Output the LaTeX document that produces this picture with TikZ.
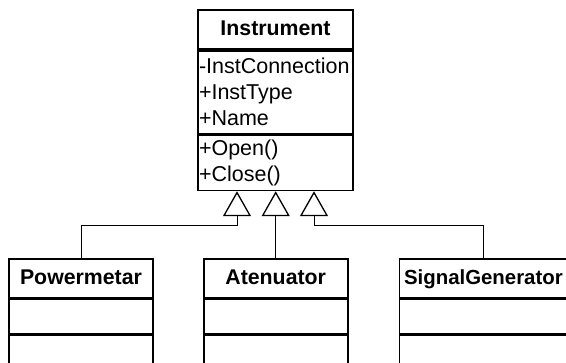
\documentclass[tikz,border=0pt]{standalone}
\usepackage{fontspec}
\setmainfont{Liberation Sans}
\usetikzlibrary{arrows.meta,calc,positioning}

\begin{document}
\begin{tikzpicture}[x=1pt,y=1pt,
      every node/.style={font=\fontsize{21.5}{26}\selectfont},
      cls/.style={draw,line width=1.7pt,inner sep=0pt,text height=15.4pt,text depth=4pt,
        font=\fontsize{21.3}{26}\selectfont\bfseries},
      part/.style={draw,line width=1.7pt,align=left,inner xsep=1pt,inner ysep=0pt},
      gen/.style={-{Triangle[open,length=25pt,width=28pt,line width=1.3pt]},line width=1pt}]
      \useasboundingbox (0,0) rectangle (566,-363);
      \clip (0,0) rectangle (566,-363);
      % base class
      \node[cls,minimum width=155pt,minimum height=39pt] (inst) at (275.5,-29.5) {Instrument};
      \node[part,text width=153pt,minimum height=83pt,below=0pt of inst] (instattr) {-InstConnection\\+InstType\\+Name};
      \node[part,text width=153pt,minimum height=55pt,below=0pt of instattr] (instops) {+Open()\\+Close()};
      \coordinate (t1) at ([xshift=-38.5pt]instops.south);
      \coordinate (t2) at (instops.south);
      \coordinate (t3) at ([xshift=38.5pt]instops.south);
      % derived classes
      \node[cls,minimum width=144pt,minimum height=38.4pt] (pm) at (81,-278.5) {Powermetar};
      \node[cls,minimum width=144pt,minimum height=38.4pt,right=49pt of pm] (at) {Atenuator};
      \node[cls,minimum width=168pt,minimum height=38.4pt,right=50pt of at,
        font=\fontsize{20.4}{26}\selectfont\bfseries] (sg) {SignalGenerator};
      \node[part,text width=142pt,minimum height=34pt,below=0pt of pm] (pmattr) {};
      \node[part,text width=142pt,minimum height=45pt,below=0pt of pmattr] (pmops) {};
      \node[part,text width=142pt,minimum height=34pt,below=0pt of at] (atattr) {};
      \node[part,text width=142pt,minimum height=45pt,below=0pt of atattr] (atops) {};
      \node[part,text width=166pt,minimum height=34pt,below=0pt of sg] (sgattr) {};
      \node[part,text width=166pt,minimum height=45pt,below=0pt of sgattr] (sgops) {};
      % generalisation
      \draw[gen] (pm.north) |- ($(t1)+(0,-34.5)$) -- (t1);
      \draw[gen] (at.north) -- (at.north |- t2);
      \draw[gen] (sg.north) |- ($(t3)+(0,-34.5)$) -- (t3);
    \end{tikzpicture}
\end{document}
